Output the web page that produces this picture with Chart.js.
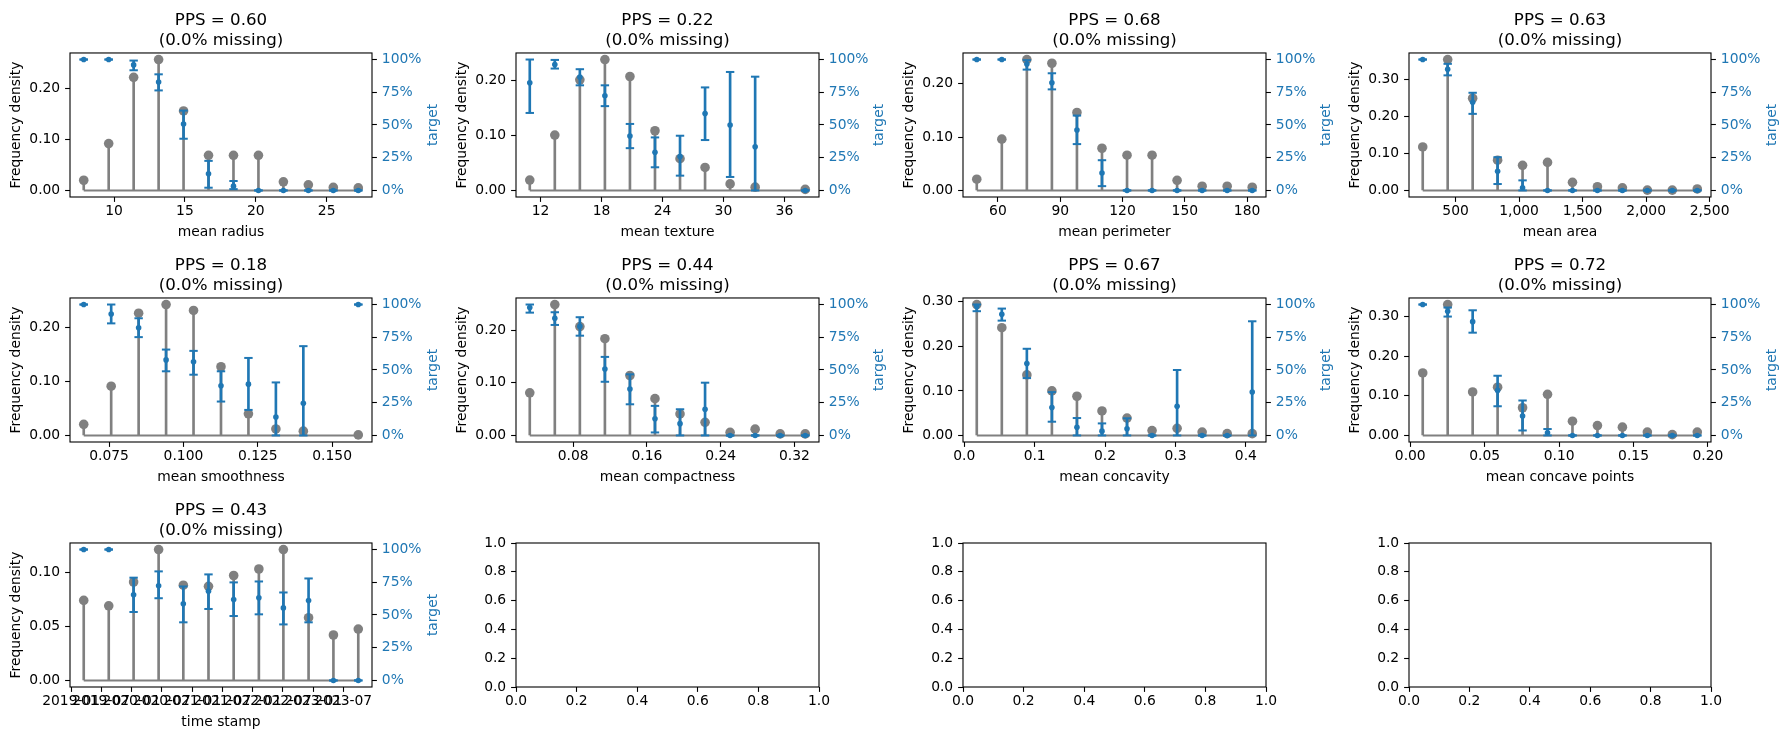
<!DOCTYPE html>
<html>
<head>
<meta charset="utf-8">
<title>PPS panels</title>
<script src="https://cdn.jsdelivr.net/npm/chart.js@4.4.1/dist/chart.umd.min.js"></script>
<style>
  body { margin: 0; background: #fff; width: 1790px; height: 740px; position: relative; overflow: hidden; }
  canvas.panel { position: absolute; }
</style>
</head>
<body>
<script>
// --- data ---
const features = ['mean radius', 'mean texture', 'mean perimeter', 'mean area', 'mean smoothness',
                  'mean compactness', 'mean concavity', 'mean concave points', 'time stamp'];
const ppsScores = [0.60, 0.22, 0.68, 0.63, 0.18, 0.44, 0.67, 0.72, 0.43];
const missingPct = [0, 0, 0, 0, 0, 0, 0, 0, 0];

const binCenters = [
    [7.861, 9.622, 11.383, 13.144, 14.904, 16.665, 18.426, 20.187, 21.947, 23.708, 25.469, 27.230],
    [10.942, 13.406, 15.870, 18.335, 20.799, 23.263, 25.727, 28.191, 30.656, 33.120, 38.048],
    [49.82, 61.88, 73.94, 86.00, 98.06, 110.12, 122.18, 134.24, 146.29, 158.35, 170.41, 182.47],
    [241.7, 438.2, 634.7, 831.1, 1027.6, 1224.0, 1420.5, 1616.9, 1813.4, 2009.9, 2206.3, 2402.8],
    [0.06648, 0.07571, 0.08494, 0.09417, 0.10340, 0.11263, 0.12186, 0.13109, 0.14032, 0.15879],
    [0.03296, 0.06013, 0.08730, 0.11447, 0.14163, 0.16880, 0.19597, 0.22314, 0.25031, 0.27747, 0.30464, 0.33181],
    [0.01778, 0.05335, 0.08892, 0.12448, 0.16005, 0.19562, 0.23118, 0.26675, 0.30232, 0.33788, 0.37345, 0.40902],
    [0.00838, 0.02515, 0.04192, 0.05868, 0.07545, 0.09222, 0.10898, 0.12575, 0.14252, 0.15928, 0.17605, 0.19282],
    ['2019-03-18', '2019-08-16', '2020-01-13', '2020-06-12', '2020-11-08', '2021-04-09',
     '2021-09-08', '2022-02-07', '2022-07-05', '2022-12-04', '2023-05-03', '2023-09-30']
];

const freqDensity = [
    [0.020, 0.092, 0.222, 0.257, 0.156, 0.069, 0.069, 0.069, 0.017, 0.011, 0.006, 0.005],
    [0.019, 0.101, 0.202, 0.239, 0.208, 0.109, 0.058, 0.042, 0.012, 0.006, 0.002],
    [0.021, 0.096, 0.245, 0.238, 0.146, 0.079, 0.066, 0.066, 0.019, 0.008, 0.008, 0.006],
    [0.118, 0.355, 0.250, 0.082, 0.068, 0.076, 0.022, 0.010, 0.007, 0.001, 0.001, 0.004],
    [0.0205, 0.091, 0.226, 0.242, 0.231, 0.127, 0.040, 0.012, 0.008, 0.001],
    [0.081, 0.249, 0.207, 0.184, 0.114, 0.070, 0.041, 0.025, 0.006, 0.012, 0.003, 0.003],
    [0.294, 0.242, 0.136, 0.100, 0.088, 0.055, 0.039, 0.011, 0.016, 0.0075, 0.004, 0.004],
    [0.158, 0.331, 0.110, 0.122, 0.070, 0.104, 0.036, 0.025, 0.021, 0.0085, 0.002, 0.0085],
    [0.074, 0.069, 0.091, 0.121, 0.088, 0.087, 0.097, 0.103, 0.121, 0.058, 0.042, 0.0475]
];

const targetMean = [
    [1, 1, 0.959, 0.828, 0.508, 0.128, 0.033, 0, 0, 0, 0, 0],
    [0.823, 0.962, 0.867, 0.723, 0.415, 0.292, 0.259, 0.587, 0.5, 0.333, 0],
    [1, 1, 0.965, 0.823, 0.462, 0.133, 0, 0, 0, 0, 0, 0],
    [1, 0.926, 0.674, 0.146, 0.021, 0, 0, 0, 0, 0, 0, 0],
    [1, 0.928, 0.823, 0.577, 0.562, 0.379, 0.392, 0.141, 0.246, 1],
    [0.977, 0.895, 0.833, 0.508, 0.354, 0.128, 0.090, 0.2, 0, 0, 0, 0],
    [0.985, 0.926, 0.549, 0.213, 0.062, 0.033, 0.051, 0, 0.223, 0, 0, 0.331],
    [1, 0.949, 0.869, 0.344, 0.149, 0.021, 0, 0, 0, 0, 0, 0],
    [1, 1, 0.654, 0.723, 0.585, 0.682, 0.618, 0.631, 0.554, 0.610, 0, 0]
];

const targetLow = [
    [1, 1, 0.918, 0.764, 0.395, 0.021, 0.010, 0, 0, 0, 0, 0],
    [0.592, 0.931, 0.803, 0.644, 0.323, 0.177, 0.113, 0.385, 0.103, 0, 0],
    [1, 1, 0.923, 0.772, 0.354, 0.033, 0, 0, 0, 0, 0, 0],
    [1, 0.879, 0.585, 0.049, 0, 0, 0, 0, 0, 0, 0, 0],
    [1, 0.856, 0.751, 0.490, 0.464, 0.259, 0.195, 0, 0, 1],
    [0.938, 0.844, 0.762, 0.410, 0.238, 0.023, 0, 0, 0, 0, 0, 0],
    [0.949, 0.877, 0.438, 0.105, 0, 0, 0, 0, 0, 0, 0, 0],
    [1, 0.908, 0.785, 0.223, 0.038, 0, 0, 0, 0, 0, 0, 0],
    [1, 1, 0.523, 0.628, 0.444, 0.546, 0.492, 0.505, 0.428, 0.444, 0, 0]
];

const targetHigh = [
    [1, 1, 0.992, 0.887, 0.610, 0.226, 0.072, 0, 0, 0, 0, 0],
    [1, 0.997, 0.926, 0.803, 0.508, 0.405, 0.418, 0.787, 0.905, 0.869, 0],
    [1, 1, 0.995, 0.895, 0.572, 0.231, 0, 0, 0, 0, 0, 0],
    [1, 0.967, 0.746, 0.254, 0.077, 0, 0, 0, 0, 0, 0, 0],
    [1, 1, 0.895, 0.656, 0.646, 0.490, 0.592, 0.405, 0.682, 1],
    [1, 0.941, 0.903, 0.600, 0.467, 0.226, 0.2, 0.403, 0, 0, 0, 0],
    [1, 0.969, 0.662, 0.331, 0.133, 0.092, 0.131, 0, 0.5, 0, 0, 0.872],
    [1, 0.977, 0.956, 0.456, 0.267, 0.049, 0, 0, 0, 0, 0, 0],
    [1, 1, 0.785, 0.833, 0.718, 0.810, 0.749, 0.756, 0.672, 0.779, 0, 0]
];

const xTickLabels = [
    ['10', '15', '20', '25'],
    ['12', '18', '24', '30', '36'],
    ['60', '90', '120', '150', '180'],
    ['500', '1,000', '1,500', '2,000', '2,500'],
    ['0.075', '0.100', '0.125', '0.150'],
    ['0.08', '0.16', '0.24', '0.32'],
    ['0.0', '0.1', '0.2', '0.3', '0.4'],
    ['0.00', '0.05', '0.10', '0.15', '0.20'],
    ['2019-01', '2019-07', '2020-01', '2020-07', '2021-01', '2021-07', '2022-01', '2022-07', '2023-01', '2023-07']
];

const freqTickLabels = [
    ['0.00', '0.10', '0.20'],
    ['0.00', '0.10', '0.20'],
    ['0.00', '0.10', '0.20'],
    ['0.00', '0.10', '0.20', '0.30'],
    ['0.00', '0.10', '0.20'],
    ['0.00', '0.10', '0.20'],
    ['0.00', '0.10', '0.20', '0.30'],
    ['0.00', '0.10', '0.20', '0.30'],
    ['0.00', '0.05', '0.10']
];

const targetTicks = [0, 0.25, 0.5, 0.75, 1];
const targetTickLabels = ['0%', '25%', '50%', '75%', '100%'];
const blankTickLabels = ['0.0', '0.2', '0.4', '0.6', '0.8', '1.0'];

// plot-area edges of the 3x4 grid, page pixels
const colLeft = [70, 516, 963, 1409];
const colRight = [372, 819, 1266, 1711];
const rowTop = [53, 298, 543];
const rowBottom = [197, 442, 687];

const BLUE = '#1f77b4';
const GREY = '#808080';
const FONT = "'DejaVu Sans', sans-serif";
const CW = 447, CH = 245;   // canvas size per panel
const PAD_L = 70, PAD_T = 53; // space left of / above the plot area

Chart.defaults.font.family = FONT;
Chart.defaults.font.size = 13.89;
Chart.defaults.color = '#000';

// strings like 2019-07 or 1,000 -> numbers on the axis
const toValue = (v) => {
    if (typeof v !== 'string') return v;
    if (/^\d{4}-\d{2}/.test(v)) return Date.parse(v.length === 7 ? v + '-01' : v);
    return parseFloat(v.replace(/,/g, ''));
};

// matplotlib style box around the axes
const frame = {
    id: 'frame',
    afterDatasetsDraw(chart) {
        const {ctx, chartArea: a} = chart;
        ctx.save();
        ctx.strokeStyle = '#000';
        ctx.lineWidth = 1.1;
        ctx.strokeRect(a.left, a.top, a.right - a.left, a.bottom - a.top);
        ctx.restore();
    }
};

// twin-axis label, reading bottom to top like matplotlib does
const rightTitle = {
    id: 'rightTitle',
    afterDraw(chart, args, opts) {
        const s = chart.scales.y1;
        if (!s || !opts.text) return;
        const ctx = chart.ctx;
        ctx.save();
        ctx.translate(s.right - opts.offset, (s.top + s.bottom) / 2);
        ctx.rotate(-Math.PI / 2);
        ctx.font = `13.89px ${FONT}`;
        ctx.fillStyle = opts.color;
        ctx.textAlign = 'center';
        ctx.textBaseline = 'middle';
        ctx.fillText(opts.text, 0, 0);
        ctx.restore();
    }
};

const tickGrid = {
    offset: false,
    drawOnChartArea: false,
    drawTicks: true,
    tickLength: 4.9,
    tickWidth: 1.1,
    tickColor: '#000'
};

function makeCanvas(row, col) {
    const c = document.createElement('canvas');
    c.className = 'panel';
    c.width = CW;
    c.height = CH;
    c.style.left = (colLeft[col] - PAD_L) + 'px';
    c.style.top = (rowTop[row] - PAD_T) + 'px';
    document.body.appendChild(c);
    return c;
}

function fixedTicks(labels, values) {
    return (axis) => { axis.ticks = labels.map((l, i) => ({value: values ? values[i] : toValue(l)})); };
}

function drawPanel(p) {
    const row = Math.floor(p / 4), col = p % 4;
    const plotW = colRight[col] - colLeft[col];
    const plotH = rowBottom[row] - rowTop[row];
    const rightW = CW - PAD_L - plotW;
    const bottomH = CH - PAD_T - plotH;

    const xs = binCenters[p].map(toValue);
    const xSpan = xs[xs.length - 1] - xs[0];
    const maxF = Math.max(...freqDensity[p]);

    const stems = xs.map((x, i) => ({x, y: freqDensity[p][i]}));
    const errBars = xs.map((x, i) => ({x, y: [targetLow[p][i], targetHigh[p][i]]}));
    const caps = xs.flatMap((x, i) => [{x, y: targetLow[p][i]}, {x, y: targetHigh[p][i]}]);
    const means = xs.map((x, i) => ({x, y: targetMean[p][i]}));

    new Chart(makeCanvas(row, col), {
        type: 'scatter',
        data: {
            datasets: [
                { type: 'scatter', data: means, yAxisID: 'y1', order: 0,
                  pointRadius: 2.8, pointBackgroundColor: BLUE, pointBorderWidth: 0 },
                { type: 'scatter', data: caps, yAxisID: 'y1', order: 1,
                  pointStyle: 'line', pointRadius: 4.2, pointBorderColor: BLUE, pointBorderWidth: 2 },
                { type: 'bar', data: errBars, yAxisID: 'y1', order: 2, grouped: false,
                  barThickness: 2, backgroundColor: BLUE, borderWidth: 0 },
                { type: 'scatter', data: stems, yAxisID: 'y', order: 3,
                  pointRadius: 4.8, pointBackgroundColor: GREY, pointBorderWidth: 0 },
                { type: 'line', yAxisID: 'y', order: 4,
                  data: [{x: xs[0], y: 0}, {x: xs[xs.length - 1], y: 0}],
                  borderColor: GREY, borderWidth: 2, pointRadius: 0 },
                { type: 'bar', data: stems, yAxisID: 'y', order: 5, grouped: false,
                  barThickness: 2, backgroundColor: GREY, borderWidth: 0 }
            ]
        },
        options: {
            responsive: false,
            animation: false,
            events: [],
            layout: { padding: 0, autoPadding: false },
            plugins: {
                legend: { display: false },
                tooltip: { enabled: false },
                title: {
                    display: true,
                    fullSize: false,
                    text: [`PPS = ${ppsScores[p].toFixed(2)}`, `(${missingPct[p].toFixed(1)}% missing)`],
                    color: '#000',
                    font: { size: 16.67, weight: 'normal', lineHeight: 1.25 },
                    padding: { top: 9.9, bottom: 1.4 }
                },
                rightTitle: { text: 'target', color: BLUE, offset: 13.5 }
            },
            scales: {
                x: {
                    type: 'linear',
                    position: 'bottom',
                    offset: false,
                    min: xs[0] - 0.05 * xSpan,
                    max: xs[xs.length - 1] + 0.05 * xSpan,
                    grid: tickGrid,
                    border: { display: false },
                    afterBuildTicks: fixedTicks(xTickLabels[p]),
                    afterFit: (axis) => { axis.height = bottomH; },
                    ticks: {
                        autoSkip: false, maxRotation: 0, minRotation: 0, padding: 1.5,
                        callback: (v, i) => xTickLabels[p][i]
                    },
                    title: { display: true, text: features[p], padding: { top: 0, bottom: 4.7 } }
                },
                y: {
                    type: 'linear',
                    position: 'left',
                    min: -0.05 * maxF,
                    max: 1.05 * maxF,
                    grid: tickGrid,
                    border: { display: false },
                    afterBuildTicks: fixedTicks(freqTickLabels[p]),
                    afterFit: (axis) => { axis.width = PAD_L; },
                    ticks: { padding: 4.9, callback: (v, i) => freqTickLabels[p][i] },
                    title: { display: true, text: 'Frequency density', padding: { top: 7.7, bottom: 0 } }
                },
                y1: {
                    type: 'linear',
                    position: 'right',
                    min: -0.05,
                    max: 1.05,
                    grid: tickGrid,
                    border: { display: false },
                    afterBuildTicks: fixedTicks(targetTickLabels, targetTicks),
                    afterFit: (axis) => { axis.width = rightW; },
                    ticks: { padding: 4.9, color: BLUE, callback: (v, i) => targetTickLabels[i] },
                    title: { display: false }
                }
            }
        },
        plugins: [frame, rightTitle]
    });
}

// the three unused axes of the grid
function drawBlank(p) {
    const row = Math.floor(p / 4), col = p % 4;
    const plotW = colRight[col] - colLeft[col];
    const plotH = rowBottom[row] - rowTop[row];

    new Chart(makeCanvas(row, col), {
        type: 'scatter',
        data: { datasets: [] },
        options: {
            responsive: false,
            animation: false,
            events: [],
            layout: { padding: { top: PAD_T, left: 0, right: CW - PAD_L - plotW, bottom: 0 }, autoPadding: false },
            plugins: { legend: { display: false }, tooltip: { enabled: false } },
            scales: {
                x: {
                    type: 'linear', min: 0, max: 1,
                    grid: tickGrid,
                    border: { display: false },
                    afterBuildTicks: fixedTicks(blankTickLabels),
                    afterFit: (axis) => { axis.height = CH - PAD_T - plotH; },
                    ticks: { autoSkip: false, maxRotation: 0, padding: 1.5, callback: (v, i) => blankTickLabels[i] }
                },
                y: {
                    type: 'linear', min: 0, max: 1,
                    grid: tickGrid,
                    border: { display: false },
                    afterBuildTicks: fixedTicks(blankTickLabels),
                    afterFit: (axis) => { axis.width = PAD_L; },
                    ticks: { padding: 4.9, callback: (v, i) => blankTickLabels[i] }
                }
            }
        },
        plugins: [frame]
    });
}

features.forEach((_, p) => drawPanel(p));
[9, 10, 11].forEach(drawBlank);
</script>
</body>
</html>
